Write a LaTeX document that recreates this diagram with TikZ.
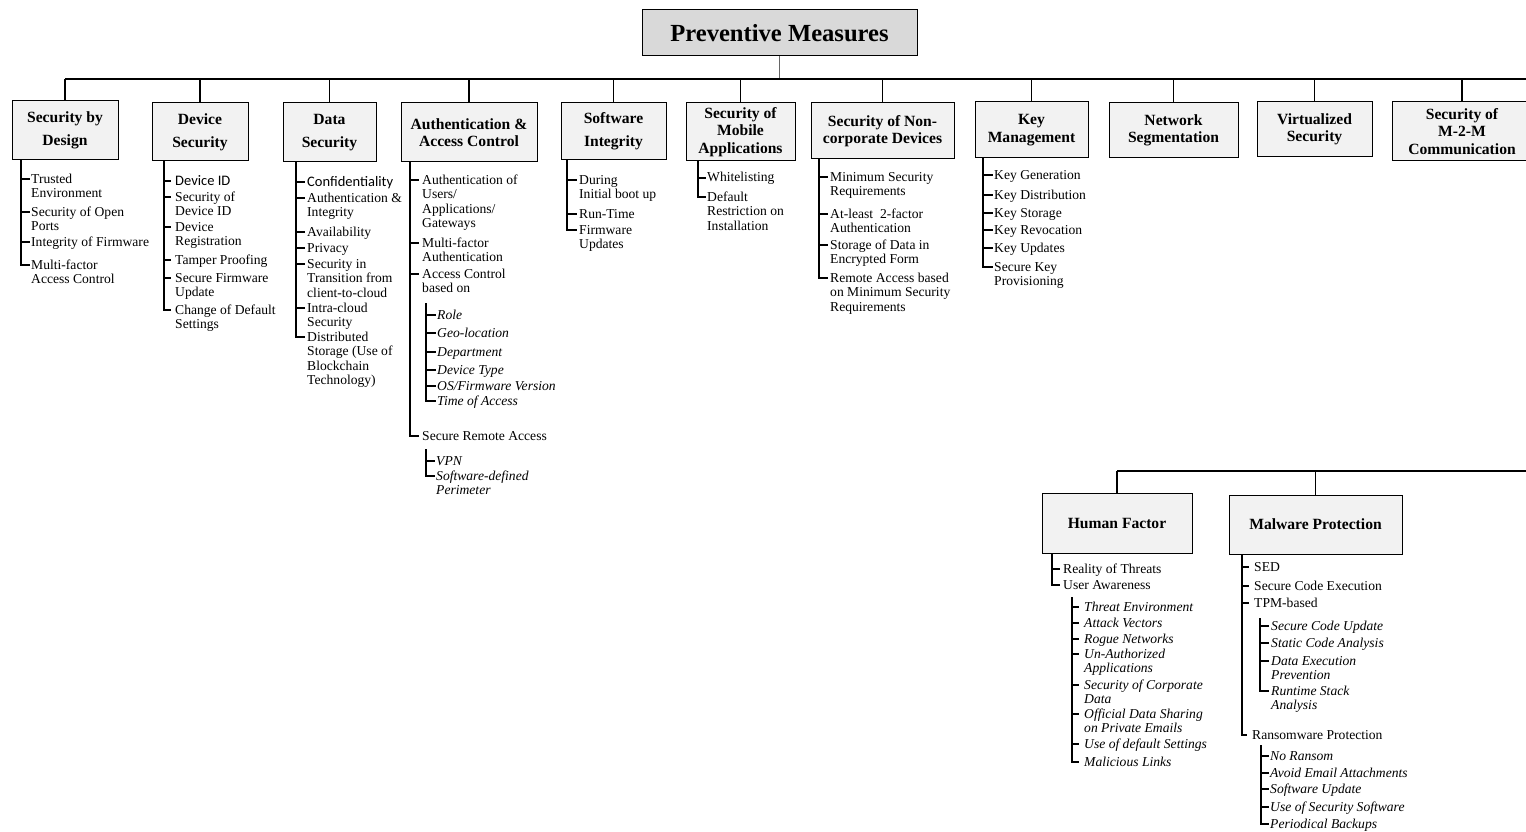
\documentclass[tikz,border=0pt]{standalone}
\usepackage{fontspec}
\setmainfont{Liberation Serif}
\newfontfamily\calfont{Carlito}

\definecolor{boxgray}{HTML}{F2F2F2}
\definecolor{rootgray}{HTML}{D9D9D9}
\newcommand{\itemfont}{\fontsize{13.6}{14.5}\selectfont}
\newcommand{\hdfont}{\fontsize{15.6}{17.5}\selectfont\bfseries}
\newcommand{\hdfontloose}{\fontsize{15.6}{23}\selectfont\bfseries}
\newcommand{\sanstext}[1]{{\calfont\fontsize{14.5}{15}\selectfont #1}}
% lines of an item, hung from the first one
\newcommand{\ml}[1]{\begin{tabular}[t]{@{}l@{}}#1\end{tabular}}

\begin{document}
\begin{tikzpicture}[x=1pt, y=-1pt,
  box/.style={draw, fill=boxgray, line width=1pt, align=center, inner sep=0pt, font=\hdfont},
  loose/.style={font=\hdfontloose},
  item/.style={anchor=base west, inner sep=0pt, font=\itemfont},
  sub/.style={item, font=\itemfont\itshape},
  bar/.style={line width=2.4pt},
  link/.style={line width=1.5pt},
  twig/.style={line width=1.2pt}]
  \useasboundingbox (0,0) rectangle (1526,832);
  \clip (0,0) rectangle (1526,832);

  % root and the two bars
  \node[box, fill=rootgray, font=\fontsize{24.6}{26}\selectfont\bfseries, minimum width=275, minimum height=46] (root) at (779.5,33) {Preventive Measures};
  \coordinate (bar) at (0,79);
  \coordinate (rim) at (1530,471);

  % top row
  \node[box, loose, minimum width=106, minimum height=59] (sbd) at (65,130.5) {Security by\\Design};
  \node[box, loose, minimum width=96, minimum height=58] (dev) at (200,132) {Device\\Security};
  \node[box, loose, minimum width=93, minimum height=59] (dat) at (329.5,132.5) {Data\\Security};
  \node[box, minimum width=136, minimum height=59] (aac) at (469,132.5) {Authentication \&\\Access Control};
  \node[box, loose, minimum width=105, minimum height=57] (swi) at (613.5,131.5) {Software\\Integrity};
  \node[box, minimum width=109, minimum height=58] (mob) at (740.5,132) {Security of\\Mobile\\Applications};
  \node[box, minimum width=143, minimum height=56] (npd) at (882.5,131) {Security of Non-\\corporate Devices};
  \node[box, minimum width=113, minimum height=56] (key) at (1031.5,130) {Key\\Management};
  \node[box, minimum width=129, minimum height=55] (net) at (1173.5,130.5) {Network\\Segmentation};
  \node[box, minimum width=115, minimum height=55] (vir) at (1314.5,129.5) {Virtualized\\Security};
  \node[box, minimum width=140, minimum height=59] (m2m) at (1462,131.5) {Security of\\M-2-M\\Communication};

  % bottom row
  \node[box, minimum width=150, minimum height=60] (hum) at (1117,523) {Human Factor};
  \node[box, minimum width=173, minimum height=59] (mal) at (1315.5,524.5) {Malware Protection};

  \draw[link, black!60] (root.south) -- (root.south |- bar);
  \draw[bar] (sbd.north |- bar) -- (bar -| rim);
  \foreach \b in {sbd,dev,dat,aac,swi,mob,npd,key,net,vir,m2m}
    \draw[link] (\b.north |- bar) -- (\b.north);
  \draw[bar] (hum.north |- rim) -- (rim);
  \foreach \b in {hum,mal}
    \draw[link] (\b.north |- rim) -- (\b.north);

  % Security by Design
  \coordinate (sbd-top) at (21,160);
  \node[item] (sbd-1) at (31,183) {\ml{Trusted\\Environment}};
  \node[item] (sbd-2) at (31,216) {\ml{Security of Open\\Ports}};
  \node[item] (sbd-3) at (31,246) {Integrity of Firmware};
  \node[item] (sbd-4) at (31,269) {\ml{Multi-factor\\Access Control}};
  \foreach \n in {1,...,4}
    \draw[twig] (sbd-top) |- ([xshift=-1pt,yshift=4pt]sbd-\n.base west);

  % Device Security
  \coordinate (dev-top) at (164,161);
  \node[item] (dev-1) at (175,185) {\sanstext{Device ID}};
  \node[item] (dev-2) at (175,201) {\ml{Security of\\Device ID}};
  \node[item] (dev-3) at (175,231) {\ml{Device\\Registration}};
  \node[item] (dev-4) at (175,264) {Tamper Proofing};
  \node[item] (dev-5) at (175,282) {\ml{Secure Firmware\\Update}};
  \node[item] (dev-6) at (175,314) {\ml{Change of Default\\Settings}};
  \foreach \n in {1,...,6}
    \draw[twig] (dev-top) |- ([xshift=-4pt,yshift=4pt]dev-\n.base west);

  % Data Security
  \coordinate (dat-top) at (296,162);
  \node[item] (dat-1) at (307,186) {\sanstext{Confidentiality}};
  \node[item] (dat-2) at (307,202) {\ml{Authentication \&\\Integrity}};
  \node[item] (dat-3) at (307,236) {Availability};
  \node[item] (dat-4) at (307,252) {Privacy};
  \node[item] (dat-5) at (307,268) {\ml{Security in\\Transition from\\client-to-cloud}};
  \node[item] (dat-6) at (307,312) {\ml{Intra-cloud\\Security}};
  \node[item] (dat-7) at (307,341) {\ml{Distributed\\Storage (Use of\\Blockchain\\Technology)}};
  \foreach \n in {1,...,7}
    \draw[twig] (dat-top) |- ([xshift=-2pt,yshift=4pt]dat-\n.base west);

  % Authentication & Access Control
  \coordinate (aac-top) at (410,162);
  \node[item] (aac-1) at (422,184) {\ml{Authentication of\\Users/\\Applications/\\Gateways}};
  \node[item] (aac-2) at (422,247) {\ml{Multi-factor\\Authentication}};
  \node[item] (aac-3) at (422,278) {\ml{Access Control\\based on}};
  \node[item] (aac-4) at (422,440) {Secure Remote Access};
  \foreach \n in {1,...,4}
    \draw[twig] (aac-top) |- ([xshift=-3pt,yshift=4pt]aac-\n.base west);
  \coordinate (acb-top) at (426,303);
  \node[sub] (acb-1) at (437,319) {Role};
  \node[sub] (acb-2) at (437,337) {Geo-location};
  \node[sub] (acb-3) at (437,356) {Department};
  \node[sub] (acb-4) at (437,374) {Device Type};
  \node[sub] (acb-5) at (437,390) {OS/Firmware Version};
  \node[sub] (acb-6) at (437,405) {Time of Access};
  \foreach \n in {1,...,6}
    \draw[twig] (acb-top) |- ([xshift=-1pt,yshift=4pt]acb-\n.base west);
  \coordinate (sra-top) at (426,449);
  \node[sub] (sra-1) at (436,465) {VPN};
  \node[sub] (sra-2) at (436,480) {\ml{Software-defined\\Perimeter}};
  \foreach \n in {1,2}
    \draw[twig] (sra-top) |- ([xshift=-1pt,yshift=4pt]sra-\n.base west);

  % Software Integrity
  \coordinate (swi-top) at (567,160);
  \node[item] (swi-1) at (579,184) {\ml{During\\Initial boot up}};
  \node[item] (swi-2) at (579,218) {Run-Time};
  \node[item] (swi-3) at (579,234) {\ml{Firmware\\Updates}};
  \foreach \n in {1,...,3}
    \draw[twig] (swi-top) |- ([xshift=-2pt,yshift=4pt]swi-\n.base west);

  % Security of Mobile Applications
  \coordinate (mob-top) at (698,161);
  \node[item] (mob-1) at (707,182) {Whitelisting};
  \node[item] (mob-2) at (707,201) {\ml{Default\\Restriction on\\Installation}};
  \foreach \n in {1,2}
    \draw[twig] (mob-top) |- ([xshift=-1pt,yshift=4pt]mob-\n.base west);

  % Security of Non-corporate Devices
  \coordinate (npd-top) at (819,159);
  \node[item] (npd-1) at (830,181) {\ml{Minimum Security\\Requirements}};
  \node[item] (npd-2) at (830,218) {\ml{At-least\ \ 2-factor\\Authentication}};
  \node[item] (npd-3) at (830,249) {\ml{Storage of Data in\\Encrypted Form}};
  \node[item] (npd-4) at (830,282) {\ml{Remote Access based\\on Minimum Security\\Requirements}};
  \foreach \n in {1,...,4}
    \draw[twig] (npd-top) |- ([xshift=-2pt,yshift=4pt]npd-\n.base west);

  % Key Management
  \coordinate (key-top) at (983,158);
  \node[item] (key-1) at (994,179) {Key Generation};
  \node[item] (key-2) at (994,199) {Key Distribution};
  \node[item] (key-3) at (994,217) {Key Storage};
  \node[item] (key-4) at (994,234) {Key Revocation};
  \node[item] (key-5) at (994,252) {Key Updates};
  \node[item] (key-6) at (994,271) {\ml{Secure Key\\Provisioning}};
  \foreach \n in {1,...,6}
    \draw[twig] (key-top) |- ([xshift=-1pt,yshift=4pt]key-\n.base west);

  % Human Factor
  \coordinate (hum-top) at (1052,553);
  \node[item] (hum-1) at (1063,573) {Reality of Threats};
  \node[item] (hum-2) at (1063,589) {User Awareness};
  \foreach \n in {1,2}
    \draw[twig] (hum-top) |- ([xshift=-3pt,yshift=4pt]hum-\n.base west);
  \coordinate (usr-top) at (1072,597);
  \node[sub] (usr-1) at (1084,611) {Threat Environment};
  \node[sub] (usr-2) at (1084,627) {Attack Vectors};
  \node[sub] (usr-3) at (1084,643) {Rogue Networks};
  \node[sub] (usr-4) at (1084,658) {\ml{Un-Authorized\\Applications}};
  \node[sub] (usr-5) at (1084,689) {\ml{Security of Corporate\\Data}};
  \node[sub] (usr-6) at (1084,718) {\ml{Official Data Sharing\\on Private Emails}};
  \node[sub] (usr-7) at (1084,748) {Use of default Settings};
  \node[sub] (usr-8) at (1084,766) {Malicious Links};
  \foreach \n in {1,...,8}
    \draw[twig] (usr-top) |- ([xshift=-5pt,yshift=4pt]usr-\n.base west);

  % Malware Protection
  \coordinate (mal-top) at (1242,554);
  \node[item] (mal-1) at (1254,571) {SED};
  \node[item] (mal-2) at (1254,590) {Secure Code Execution};
  \node[item] (mal-3) at (1254,607) {TPM-based};
  \node[item] (mal-4) at (1252,739) {Ransomware Protection};
  \foreach \n in {1,...,4}
    \draw[twig] (mal-top) |- ([xshift=-5pt,yshift=4pt]mal-\n.base west);
  \coordinate (tpm-top) at (1260,618);
  \node[sub] (tpm-1) at (1271,630) {Secure Code Update};
  \node[sub] (tpm-2) at (1271,647) {Static Code Analysis};
  \node[sub] (tpm-3) at (1271,665) {\ml{Data Execution\\Prevention}};
  \node[sub] (tpm-4) at (1271,695) {\ml{Runtime Stack\\Analysis}};
  \foreach \n in {1,...,4}
    \draw[twig] (tpm-top) |- ([xshift=-2pt,yshift=4pt]tpm-\n.base west);
  \coordinate (rns-top) at (1261,745);
  \node[sub] (rns-1) at (1270,760) {No Ransom};
  \node[sub] (rns-2) at (1270,777) {Avoid Email Attachments};
  \node[sub] (rns-3) at (1270,793) {Software Update};
  \node[sub] (rns-4) at (1270,811) {Use of Security Software};
  \node[sub] (rns-5) at (1270,828) {Periodical Backups};
  \foreach \n in {1,...,5}
    \draw[twig] (rns-top) |- ([xshift=-1pt,yshift=4pt]rns-\n.base west);
\end{tikzpicture}
\end{document}
